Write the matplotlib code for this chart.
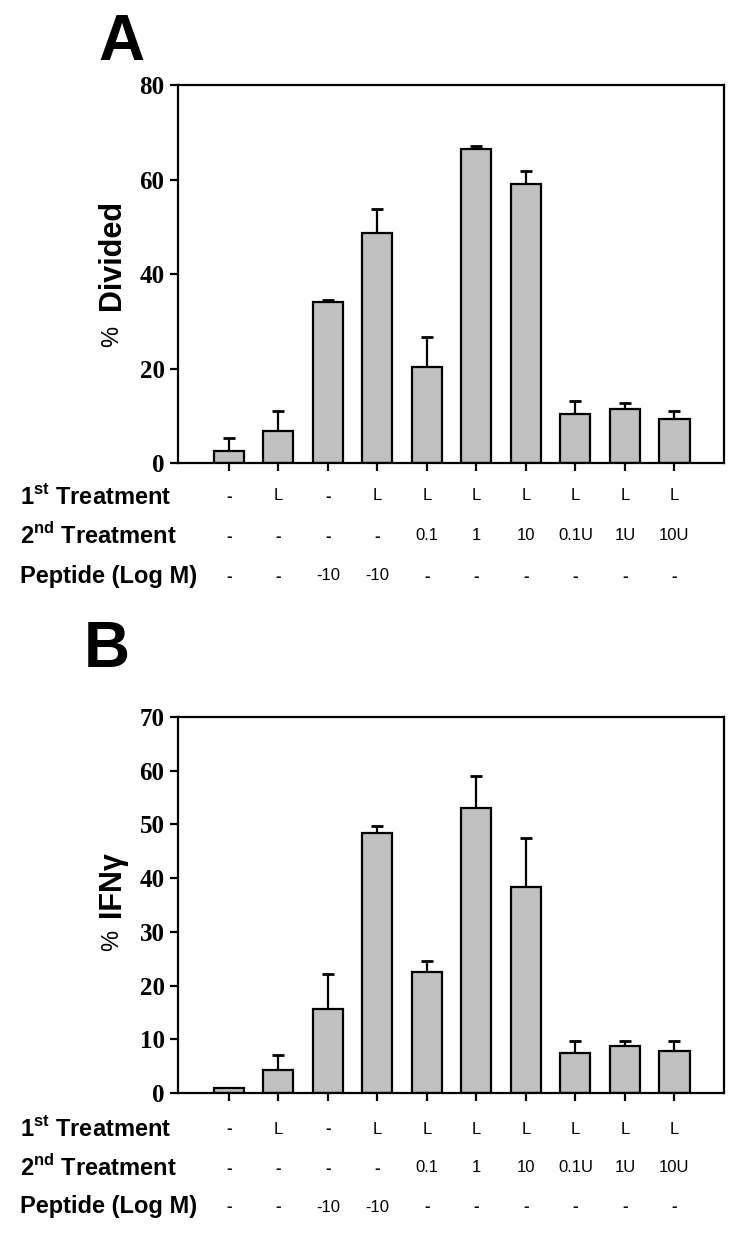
import numpy as np
import matplotlib
matplotlib.use("Agg")
import matplotlib.pyplot as plt
from matplotlib.transforms import blended_transform_factory

# data
positions = [1, 2, 3, 4, 5, 6, 7, 8, 9, 10]
divided = [2.5, 6.8, 34.0, 48.6, 20.4, 66.4, 59.1, 10.4, 11.5, 9.4]
divided_err = [2.7, 4.2, 0.5, 5.2, 6.2, 0.6, 2.6, 2.7, 1.1, 1.6]
ifng = [0.9, 4.2, 15.7, 48.4, 22.6, 53.0, 38.3, 7.5, 8.8, 7.8]
ifng_err = [0.0, 2.8, 6.4, 1.3, 1.9, 6.0, 9.1, 2.2, 0.9, 1.9]

first_treat = ["-", "L", "-", "L", "L", "L", "L", "L", "L", "L"]
second_treat = ["-", "-", "-", "-", "0.1", "1", "10", "0.1U", "1U", "10U"]
peptide = ["-", "-", "-10", "-10", "-", "-", "-", "-", "-", "-"]
row_names = ["1$^{\\mathbf{st}}$ Treatment", "2$^{\\mathbf{nd}}$ Treatment", "Peptide (Log M)"]

narrow = ["Liberation Sans Narrow", "Liberation Sans", "DejaVu Sans"]
plt.rcParams["font.family"] = narrow
plt.rcParams["mathtext.fontset"] = "custom"
plt.rcParams["mathtext.bf"] = "Liberation Sans:bold"
plt.rcParams["mathtext.rm"] = "Liberation Sans:bold"

fig = plt.figure(figsize=(7.44, 12.36), dpi=100)


def panel(rect, vals, errs, ymax, ystep, letter, letter_xy, ylab, ylab_y, rows_y):
    ax = fig.add_axes(rect)
    ax.bar(positions, vals, width=0.61, color="#c0c0c0", edgecolor="black", linewidth=1.6, zorder=2)
    ax.errorbar(positions, vals, yerr=[np.zeros(len(vals)), errs], fmt="none",
                ecolor="black", elinewidth=1.6, capsize=4, capthick=2, zorder=1)
    ax.set_xlim(-0.03, 11.0)
    ax.set_ylim(0, ymax)
    ax.set_yticks(np.arange(0, ymax + 1, ystep))
    ax.set_xticks(positions)
    ax.set_xticklabels([])
    ax.tick_params(direction="out", length=6, width=1.6)
    for lab in ax.get_yticklabels():
        lab.set_fontfamily("Liberation Serif")
        lab.set_fontweight("bold")
        lab.set_fontsize(18)
    for s in ax.spines.values():
        s.set_linewidth(1.6)
    # y label: "%" light, word bold
    ax.text(-0.12, ylab_y[0], "%", transform=ax.transAxes, rotation=90,
            ha="center", va="center", fontsize=17, family="Liberation Sans")
    ax.text(-0.12, ylab_y[1], ylab, transform=ax.transAxes, rotation=90,
            ha="center", va="center", fontsize=22, fontweight="bold", family="Liberation Sans")
    fig.text(letter_xy[0], letter_xy[1], letter, fontsize=46, fontweight="bold",
             family="Liberation Sans", ha="left", va="center")
    # treatment table below the axis
    trans = blended_transform_factory(ax.transData, fig.transFigure)
    for name, cells, y in zip(row_names, [first_treat, second_treat, peptide], rows_y):
        fig.text(0.027, y, name, fontsize=17, fontweight="bold", ha="left", va="center")
        for p, c in zip(positions, cells):
            ax.text(p, y, c, transform=trans, fontsize=12, ha="center", va="center",
                    fontweight="bold" if c == "-" else "normal")
    return ax


panel([0.239, 0.6254, 0.734, 0.3058], divided, divided_err, 80, 20, "A",
      (0.132, 0.965), "Divided", (0.335, 0.55),
      [1 - 496 / 1236, 1 - 536 / 1236, 1 - 576 / 1236])
panel([0.239, 0.1157, 0.734, 0.3042], ifng, ifng_err, 70, 10, "B",
      (0.112, 0.474), "IFN\u03b3", (0.405, 0.555),
      [1 - 1129 / 1236, 1 - 1168 / 1236, 1 - 1207 / 1236])

fig.savefig("out.png", dpi=100)
